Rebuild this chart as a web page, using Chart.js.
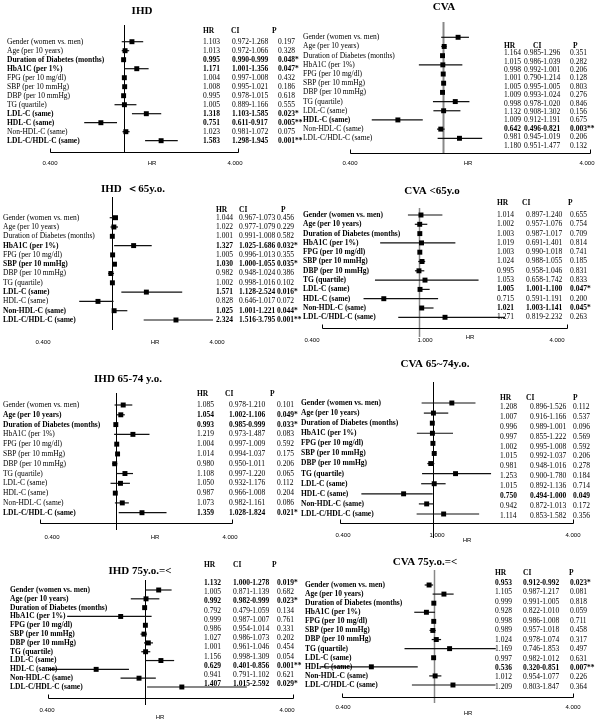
<!DOCTYPE html>
<html>
<head>
<meta charset="utf-8">
<script src="https://cdn.jsdelivr.net/npm/chart.js@4"></script>
<style>
html, body { margin: 0; padding: 0; background: #fff; }
#wrap { position: relative; width: 600px; height: 719px; }
#wrap canvas { position: absolute; left: 0; top: 0; }
</style>
</head>
<body>
<div id="wrap"></div>
<script>
var rowLabels = ['Gender (women vs. men)', 'Age (per 10 years)', 'Duration of Diabetes (months)', 'HbA1C (per 1%)',
  'FPG (per 10 mg/dl)', 'SBP (per 10 mmHg)', 'DBP (per 10 mmHg)', 'TG (quartile)', 'LDL-C (same)',
  'HDL-C (same)', 'Non-HDL-C (same)', 'LDL-C/HDL-C (same)'];
var titles = ['IHD', 'CVA', 'IHD  \uFF1C65y.o.', 'CVA <65y.o', 'IHD 65-74 y.o.', 'CVA 65~74y.o.', 'IHD 75y.o.=<', 'CVA 75y.o.=<'];
var tableHeads = ['HR', 'CI', 'P'];
var tickValues = [0.4, 1, 4];
var axisTitle = 'HR';

var ihdHR = [1.103, 1.013, 0.995, 1.171, 1.004, 1.008, 0.995, 1.005, 1.318, 0.751, 1.023, 1.583];
var ihdCI = ['0.972-1.268', '0.972-1.066', '0.990-0.999', '1.001-1.356', '0.997-1.008', '0.995-1.021', '0.978-1.015', '0.889-1.166', '1.103-1.585', '0.611-0.917', '0.981-1.072', '1.298-1.945'];
var ihdP = ['0.197', '0.328', '0.048*', '0.047*', '0.432', '0.186', '0.618', '0.555', '0.023*', '0.005**', '0.075', '0.001**'];

var cvaHR = [1.164, 1.015, 0.998, 1.001, 1.005, 1.009, 0.998, 1.132, 1.009, 0.642, 0.981, 1.180];
var cvaCI = ['0.985-1.296', '0.986-1.039', '0.992-1.001', '0.790-1.214', '0.995-1.005', '0.993-1.024', '0.978-1.020', '0.908-1.302', '0.912-1.191', '0.496-0.821', '0.945-1.019', '0.951-1.477'];
var cvaP = ['0.351', '0.282', '0.206', '0.128', '0.803', '0.276', '0.846', '0.156', '0.675', '0.003**', '0.206', '0.132'];

var ihdU65HR = [1.044, 1.022, 1.001, 1.327, 1.005, 1.030, 0.982, 1.002, 1.571, 0.828, 1.025, 2.324];
var ihdU65CI = ['0.967-1.073', '0.977-1.079', '0.991-1.008', '1.025-1.686', '0.996-1.013', '1.000-1.055', '0.948-1.024', '0.998-1.016', '1.128-2.524', '0.646-1.017', '1.001-1.221', '1.516-3.795'];
var ihdU65P = ['0.456', '0.229', '0.582', '0.032*', '0.355', '0.035*', '0.386', '0.102', '0.016*', '0.072', '0.044*', '0.001**'];

var cvaU65HR = [1.014, 1.002, 1.003, 1.019, 1.003, 1.024, 0.995, 1.053, 1.005, 0.715, 1.021, 1.271];
var cvaU65CI = ['0.897-1.240', '0.957-1.076', '0.987-1.017', '0.691-1.401', '0.990-1.018', '0.988-1.055', '0.958-1.046', '0.658-1.742', '1.001-1.100', '0.591-1.191', '1.003-1.141', '0.819-2.232'];
var cvaU65P = ['0.655', '0.754', '0.709', '0.814', '0.741', '0.185', '0.831', '0.833', '0.047*', '0.200', '0.045*', '0.263'];

var ihd6574HR = [1.085, 1.054, 0.993, 1.219, 1.004, 1.014, 0.980, 1.108, 1.050, 0.987, 1.073, 1.359];
var ihd6574CI = ['0.978-1.210', '1.002-1.106', '0.985-0.999', '0.973-1.487', '0.997-1.009', '0.994-1.037', '0.950-1.011', '0.997-1.220', '0.932-1.176', '0.966-1.008', '0.982-1.161', '1.028-1.824'];
var ihd6574P = ['0.101', '0.049*', '0.033*', '0.083', '0.592', '0.175', '0.206', '0.065', '0.112', '0.204', '0.086', '0.021*'];

var cva6574HR = [1.208, 1.007, 0.996, 0.997, 1.002, 1.015, 0.981, 1.253, 1.015, 0.750, 0.942, 1.114];
var cva6574CI = ['0.896-1.526', '0.916-1.166', '0.989-1.001', '0.855-1.222', '0.995-1.008', '0.992-1.037', '0.948-1.016', '0.900-1.780', '0.892-1.136', '0.494-1.000', '0.872-1.013', '0.853-1.582'];
var cva6574P = ['0.112', '0.537', '0.096', '0.569', '0.592', '0.206', '0.278', '0.184', '0.714', '0.049', '0.172', '0.356'];

var ihd75HR = [1.132, 1.005, 0.992, 0.792, 0.999, 0.986, 1.027, 1.001, 1.156, 0.629, 0.941, 1.407];
var ihd75CI = ['1.000-1.278', '0.871-1.139', '0.982-0.999', '0.479-1.059', '0.987-1.007', '0.954-1.014', '0.986-1.073', '0.961-1.046', '0.998-1.309', '0.401-0.856', '0.791-1.102', '1.015-2.592'];
var ihd75P = ['0.019*', '0.682', '0.023*', '0.134', '0.761', '0.331', '0.202', '0.454', '0.054', '0.001**', '0.621', '0.029*'];

var cva75HR = [0.953, 1.105, 0.999, 0.928, 0.998, 0.989, 1.024, 1.169, 0.997, 0.536, 1.012, 1.209];
var cva75CI = ['0.912-0.992', '0.987-1.217', '0.991-1.005', '0.822-1.010', '0.986-1.008', '0.957-1.018', '0.978-1.074', '0.746-1.853', '0.982-1.012', '0.320-0.851', '0.954-1.077', '0.803-1.847'];
var cva75P = ['0.023*', '0.081', '0.818', '0.059', '0.711', '0.458', '0.317', '0.497', '0.631', '0.007**', '0.226', '0.364'];

// page layout of each panel (pixels)
var layouts = [
  { x0: 50, x1: 236, row0: 41.7, row11: 140.7, refTop: 25, refBot: 152, refColor: '#000', refW: 1,
    axisY: 152, axisL: 50, axisR: 238, tickY: 163, tickX: [50, null, 235], hrX: 152, hrY: 163,
    titleX: 142, titleY: 11, labelX: 7, hdrY: 31, hdr: [203, 231, 272], col: [203, 232, 278], allBold: false },
  { x0: 350, x1: 583, row0: 37.3, row11: 138.3, refTop: 22, refBot: 153, refColor: '#888', refW: 2,
    axisY: 153, axisL: 350, axisR: 590, tickY: 163, tickX: [350, null, 587], hrX: 468, hrY: 163,
    titleX: 444, titleY: 7, labelX: 303, hdrY: 46, tblY0: 53.3, tblStep: 8.4, hdr: [504, 533, 573], col: [504, 524, 570], allBold: false },
  { x0: 43, x1: 217, row0: 217.7, row11: 320, refTop: 197, refBot: 330, refColor: '#000', refW: 1,
    axisY: null, tickY: 342, tickX: [43, null, 217], hrX: 155, hrY: 342,
    titleX: 133, titleY: 189, labelX: 3, hdrY: 210, hdr: [216, 239, 281], col: [216, 239, 277], allBold: false },
  { x0: 322, x1: 567, row0: 215, row11: 317.3, refTop: 208, refBot: 337, refColor: '#888', refW: 1.5,
    axisY: 328, axisL: 322, axisR: 567, tickY: 340, tickX: [312, 425, 557], hrX: 470, hrY: 337,
    titleX: 432, titleY: 191, labelX: 303, hdrY: 203, hdr: [497, 522, 568], col: [497, 526, 570], allBold: true },
  { x0: 40, x1: 232, row0: 405, row11: 512.7, refTop: 393, refBot: 530, refColor: '#000', refW: 1,
    axisY: 523, axisL: 40, axisR: 232, tickY: 537, tickX: [52, null, 230], hrX: 155, hrY: 537,
    titleX: 128, titleY: 379, labelX: 3, hdrY: 394, hdr: [197, 225, 270], col: [197, 229, 277], allBold: false },
  { x0: 340, x1: 573, row0: 403, row11: 514, refTop: 382, refBot: 538, refColor: '#000', refW: 1,
    axisY: 523, axisL: 340, axisR: 573, tickY: 535, tickX: [343, 437, 573], hrX: 467, hrY: 540,
    titleX: 435, titleY: 364, labelX: 301, hdrY: 398, tblY0: 407, tblStep: 9.9, hdr: [500, 526, 573], col: [500, 530, 573], allBold: true },
  { x0: 48, x1: 293, row0: 590, row11: 687, refTop: 580, refBot: 705, refColor: '#000', refW: 1,
    axisY: 698, axisL: 48, axisR: 293, tickY: 710, tickX: [47, null, 287], hrX: 160, hrY: 717,
    titleX: 140, titleY: 571, labelX: 10, hdrY: 565, tblY0: 583, tblStep: 9.2, hdr: [204, 233, 272], col: [204, 233, 277], allBold: true },
  { x0: 342, x1: 573, row0: 585, row11: 685, refTop: 570, refBot: 703, refColor: '#888', refW: 1.5,
    axisY: 697, axisL: 342, axisR: 573, tickY: 707, tickX: [343, null, 573], hrX: 468, hrY: 713,
    titleX: 425, titleY: 562, labelX: 305, hdrY: 573, tblY0: 583, tblStep: 9.45, hdr: [495, 523, 569], col: [495, 523, 570], allBold: true }
];

var panels = [
  { hr: ihdHR, ci: ihdCI, p: ihdP },
  { hr: cvaHR, ci: cvaCI, p: cvaP },
  { hr: ihdU65HR, ci: ihdU65CI, p: ihdU65P },
  { hr: cvaU65HR, ci: cvaU65CI, p: cvaU65P },
  { hr: ihd6574HR, ci: ihd6574CI, p: ihd6574P },
  { hr: cva6574HR, ci: cva6574CI, p: cva6574P },
  { hr: ihd75HR, ci: ihd75CI, p: ihd75P },
  { hr: cva75HR, ci: cva75CI, p: cva75P }
];

var SERIF = '"Liberation Serif", "Times New Roman", serif';
var SANS = '"Liberation Sans", Arial, sans-serif';

function forestPlugin(pd, L, title) {
  function sig(i) { return parseFloat(pd.p[i]) < 0.05; }
  return {
    id: 'forest',
    beforeDatasetsDraw: function(chart) {
      var c = chart.ctx, xs = chart.scales.x, ys = chart.scales.y;
      c.save();
      // line of no effect
      var rx = Math.round(xs.getPixelForValue(1)) + 0.5;
      c.strokeStyle = L.refColor;
      c.lineWidth = L.refW;
      c.beginPath(); c.moveTo(rx, L.refTop); c.lineTo(rx, L.refBot); c.stroke();
      if (L.axisY) {
        var ay = L.axisY + 0.5;
        c.strokeStyle = '#000';
        c.lineWidth = 1;
        c.beginPath();
        c.moveTo(L.axisL + 0.5, ay - 4); c.lineTo(L.axisL + 0.5, ay);
        c.lineTo(L.axisR + 0.5, ay); c.lineTo(L.axisR + 0.5, ay - 4);
        c.stroke();
      }
      // confidence intervals
      c.strokeStyle = '#111';
      c.lineWidth = 1.2;
      pd.ci.forEach(function(s, i) {
        var b = s.split('-');
        var y = ys.getPixelForValue(i);
        c.beginPath();
        c.moveTo(xs.getPixelForValue(+b[0]), y);
        c.lineTo(xs.getPixelForValue(+b[1]), y);
        c.stroke();
      });
      c.restore();
    },
    afterDraw: function(chart) {
      var c = chart.ctx, ys = chart.scales.y;
      c.save();
      c.fillStyle = '#000';
      c.textBaseline = 'middle';
      c.textAlign = 'center';
      c.font = 'bold 11px ' + SERIF;
      c.fillText(title, L.titleX, L.titleY);

      c.textAlign = 'left';
      rowLabels.forEach(function(t, i) {
        c.font = ((L.allBold || sig(i)) ? 'bold ' : '') + '7.5px ' + SERIF;
        c.fillText(t, L.labelX, ys.getPixelForValue(i));
      });

      c.font = 'bold 7.5px ' + SERIF;
      tableHeads.forEach(function(t, k) { c.fillText(t, L.hdr[k], L.hdrY); });
      pd.hr.forEach(function(v, i) {
        var y = L.tblY0 != null ? L.tblY0 + i * L.tblStep : ys.getPixelForValue(i);
        c.font = (sig(i) ? 'bold ' : '') + '7.5px ' + SERIF;
        c.fillText(v.toFixed(3), L.col[0], y);
        c.fillText(pd.ci[i], L.col[1], y);
        c.fillText(pd.p[i], L.col[2], y);
      });

      c.textAlign = 'center';
      c.font = '6px ' + SANS;
      tickValues.forEach(function(v, k) {
        if (L.tickX[k] == null) return;
        c.fillText(v.toFixed(3), L.tickX[k], L.tickY);
      });
      c.fillText(axisTitle, L.hrX, L.hrY);
      c.restore();
    }
  };
}

var wrap = document.getElementById('wrap');
panels.forEach(function(pd, n) {
  var L = layouts[n];
  var cv = document.createElement('canvas');
  cv.width = 600; cv.height = 719;
  cv.style.width = '600px'; cv.style.height = '719px';
  wrap.appendChild(cv);
  new Chart(cv, {
    type: 'scatter',
    data: {
      datasets: [{
        data: pd.hr.map(function(v, i) { return { x: v, y: i }; }),
        pointStyle: 'rect',
        pointRadius: 3.5,
        backgroundColor: '#000',
        borderWidth: 0,
        clip: false
      }]
    },
    options: {
      responsive: false,
      animation: false,
      events: [],
      layout: { padding: { left: L.x0, right: 600 - L.x1, top: L.row0, bottom: 719 - L.row11 } },
      plugins: { legend: { display: false }, tooltip: { enabled: false } },
      scales: {
        x: { type: 'logarithmic', min: 0.4, max: 4, display: false },
        y: { type: 'linear', min: 0, max: 11, reverse: true, display: false }
      }
    },
    plugins: [forestPlugin(pd, L, titles[n])]
  });
});
</script>
</body>
</html>
